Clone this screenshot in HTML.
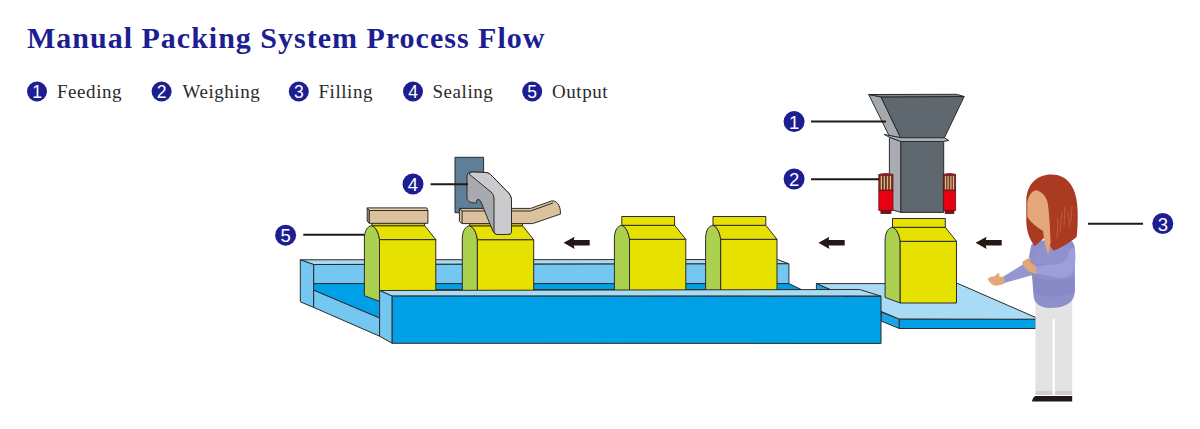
<!DOCTYPE html>
<html><head><meta charset="utf-8">
<style>
html,body{margin:0;padding:0;background:#fff;}
body{width:1200px;height:429px;overflow:hidden;position:relative;}
.title{position:absolute;left:27px;top:19.6px;font-family:"Liberation Serif",serif;font-weight:bold;font-size:30px;letter-spacing:1px;color:#1c1e92;white-space:nowrap;line-height:36px;}
.leg{position:absolute;top:81px;font-family:"Liberation Serif",serif;font-size:19px;letter-spacing:0.55px;color:#2a2a2a;white-space:nowrap;line-height:22px;}
svg{position:absolute;left:0;top:0;}
</style></head><body>
<div class="title">Manual Packing System Process Flow</div>
<div class="leg" style="left:57px">Feeding</div>
<div class="leg" style="left:182.5px">Weighing</div>
<div class="leg" style="left:318.5px">Filling</div>
<div class="leg" style="left:432.5px">Sealing</div>
<div class="leg" style="left:552px">Output</div>
<svg width="1200" height="429" viewBox="0 0 1200 429">
<defs>
<g id="num" font-family="'Liberation Sans', sans-serif" font-size="15" fill="#fff" text-anchor="middle"></g>
</defs>
<!-- legend circles -->
<g fill="#1c1e92">
<circle cx="37" cy="91.5" r="10"/><circle cx="161.6" cy="91.5" r="10"/><circle cx="298.8" cy="91.5" r="10"/><circle cx="413" cy="91.5" r="10"/><circle cx="532.2" cy="91.5" r="10"/>
</g>
<g font-family="'Liberation Sans', sans-serif" font-size="17.5" fill="#fff" text-anchor="middle">
<text x="37" y="97.8">1</text><text x="161.6" y="97.8">2</text><text x="298.8" y="97.8">3</text><text x="413" y="97.8">4</text><text x="532.2" y="97.8">5</text>
</g>

<!-- right platform conveyor -->
<g stroke="#2b2b2b" stroke-width="1" stroke-linejoin="round">
<polygon points="816.4,283.6 958,283.6 1036,317.6 1036,319.6 899.3,319.2 816.4,283.6" fill="#a9dbf5"/>
<polygon points="816.4,283.6 830,289.6 816.4,289.6" fill="#1aa6e6"/>
<polygon points="881,312.1 899.3,319.2 899.3,328.5 881,321" fill="#1aa6e6"/>
<polygon points="899.3,319.2 1036,319.2 1036,328.5 899.3,328.5" fill="#00a0e6"/>
</g>

<!-- left conveyor back -->
<g stroke="#2b2b2b" stroke-width="1" stroke-linejoin="round">
<!-- back wall top strip -->
<polygon points="300.3,259.8 777.5,259.5 788.9,263.8 313.6,264.5" fill="#a9dbf5"/>
<!-- back wall face -->
<polygon points="313.6,264.5 788.9,263.8 788.9,283.6 313.6,283.6" fill="#74c7f1"/>
<!-- floor -->
<polygon points="313.6,283.6 788.9,283.6 801.4,289.6 379.6,289.6 379.6,318.1 313.6,290.2" fill="#00a0e6"/>
<!-- left wall inner face -->
<polygon points="313.6,290.2 379.6,318.1 379.6,336.2 313.6,307.4" fill="#74c7f1"/>
<!-- left end cap -->
<polygon points="300.3,259.8 313.6,264.5 313.6,307.4 300.3,301.8" fill="#74c7f1"/>
</g>

<!-- bags placeholder group -->
<g id="bags" stroke="#2b2b2b" stroke-width="1" stroke-linejoin="round"><g transform="translate(364.4,216.8)">
<path d="M0,78.9 L0,22 C0,14 3,9.5 7.4,8.8 C11,10 14,15 15.1,22.8 L15.1,84.5 Z" fill="#acd14e"/>
<rect x="15.1" y="22.8" width="56.3" height="61.7" fill="#e6e100"/>
<path d="M7.4,8.8 L60.2,8.8 L71.4,22.8 L15.1,22.8 C14,15 11,10 7.4,8.8 Z" fill="#e6e100"/>
<rect x="7.4" y="6" width="52.8" height="3" fill="#cfc800"/>
</g><g transform="translate(462.3,216.9)">
<path d="M0,78.9 L0,22 C0,14 3,9.5 7.4,8.8 C11,10 14,15 15.1,22.8 L15.1,84.5 Z" fill="#acd14e"/>
<rect x="15.1" y="22.8" width="56.3" height="61.7" fill="#e6e100"/>
<path d="M7.4,8.8 L60.2,8.8 L71.4,22.8 L15.1,22.8 C14,15 11,10 7.4,8.8 Z" fill="#e6e100"/>
<rect x="7.4" y="6" width="52.8" height="3" fill="#cfc800"/>
</g><g transform="translate(614.4,216.5)">
<path d="M0,78.9 L0,22 C0,14 3,9.5 7.4,8.8 C11,10 14,15 15.1,22.8 L15.1,84.5 Z" fill="#acd14e"/>
<rect x="15.1" y="22.8" width="56.3" height="61.7" fill="#e6e100"/>
<path d="M7.4,8.8 L60.2,8.8 L71.4,22.8 L15.1,22.8 C14,15 11,10 7.4,8.8 Z" fill="#e6e100"/>
<rect x="7.4" y="0" width="52.8" height="8.8" fill="#e6e100"/>
</g><g transform="translate(705.6,216.5)">
<path d="M0,78.9 L0,22 C0,14 3,9.5 7.4,8.8 C11,10 14,15 15.1,22.8 L15.1,84.5 Z" fill="#acd14e"/>
<rect x="15.1" y="22.8" width="56.3" height="61.7" fill="#e6e100"/>
<path d="M7.4,8.8 L60.2,8.8 L71.4,22.8 L15.1,22.8 C14,15 11,10 7.4,8.8 Z" fill="#e6e100"/>
<rect x="7.4" y="0" width="52.8" height="8.8" fill="#e6e100"/>
</g><g transform="translate(885.1,218.5)">
<path d="M0,78.9 L0,22 C0,14 3,9.5 7.4,8.8 C11,10 14,15 15.1,22.8 L15.1,84.5 Z" fill="#acd14e"/>
<rect x="15.1" y="22.8" width="56.3" height="61.7" fill="#e6e100"/>
<path d="M7.4,8.8 L60.2,8.8 L71.4,22.8 L15.1,22.8 C14,15 11,10 7.4,8.8 Z" fill="#e6e100"/>
<rect x="7.4" y="0" width="52.8" height="8.8" fill="#e6e100"/>
</g>
<!-- lid 1 -->
<polygon points="367.2,207.9 426.7,207.9 427.9,210.5 369.3,210.5" fill="#e8cfad"/>
<polygon points="367.2,207.9 369.3,210.5 369.3,223.3 367.2,221" fill="#c9ab82"/>
<rect x="369.3" y="210.5" width="58.6" height="12.8" fill="#dcc29c"/>
<!-- sealer box -->
<rect x="455" y="157.3" width="28.6" height="55.4" fill="#5f7e98"/>
<!-- lid 2 -->
<path d="M459.4,208.4 L530.5,208.4 L551.5,201 C556,200 561,205 560.4,214.1 L532.6,223.6 L462.1,223.6 L459.4,221.5 Z" fill="#dcc29c"/>
<path d="M459.4,208.4 L462.1,211 L530.5,211 L553,203" fill="none"/>
<path d="M462.1,211 L462.1,223.6" fill="none"/>
<!-- gray sealing bar -->
<path d="M467,176 C467,173 469,172 472,172 L486,172.5 C489,173 490,174 492,176 L508.6,193 C511,196 511.5,198 511.5,202 L511.5,232 C511.5,234 509,234.5 505,234.5 L498,234.5 C495,234.5 493,232 492,229 L481,202 C480,199.5 478,199 477,200 L476.3,203 C475,203 471,203 469,201.5 C467.5,200 467,199 467,197 Z" fill="#a9aaae"/>
<path d="M469,174 C470,172 472,172 474,172 L486,172.5 C489,173 490,174 492,176 L508.6,193 C511,196 511.5,198 511.5,202 L511.5,232 C511.5,234 509,234.5 505,234.5 L498,234.5 C495,234.5 494,233 494,230 L494,199 C494,196 493,194 491,192 Z" fill="#cbcbcd"/>
</g>

<!-- front wall -->
<g stroke="#2b2b2b" stroke-width="1" stroke-linejoin="round">
<polygon points="379.6,290.5 859.6,289.5 881,296.2 392.2,296.1" fill="#a9dbf5"/>
<polygon points="379.6,290.5 392.2,296.1 392.2,343.3 379.6,336.2" fill="#74c7f1"/>
<polygon points="392.2,296.1 881,296.2 881,343.4 392.2,343.3" fill="#00a0e6"/>
</g>

<!-- hopper -->
<g stroke="#2b2b2b" stroke-width="1" stroke-linejoin="round">
<polygon points="868.7,94.5 881,96.9 900.6,137.8 889,135.5" fill="#a4a9ad"/>
<polygon points="881,96.9 964.2,96.5 944.4,137.8 900.6,137.8" fill="#5f686e"/>
<polygon points="868.7,94.5 956.5,94.3 964.2,96.5 881,96.9" fill="#80878c"/>
<polygon points="889.4,137.2 900.9,141.4 900.9,212.4 889.4,209" fill="#a8acb0"/>
<rect x="900.9" y="141.4" width="42.8" height="71" fill="#5f686e"/>
<polygon points="884.1,134.4 900.6,137.8 944.4,137.8 948.75,140.5 943.75,141.4 900.9,141.4 889.4,137.2" fill="#b4b8bc"/>
</g>
<!-- motors -->
<g>
<g transform="translate(878.8,172.6)">
<rect x="1.56" y="37" width="11.08" height="4.4" rx="1.2" fill="#6b1a22"/>
<rect x="0" y="17.5" width="14.20" height="20.4" fill="#e60012" stroke="#5a1010" stroke-width="0.7"/>
<rect x="0" y="2" width="14.20" height="15.5" fill="#7a2a22" stroke="#5a1010" stroke-width="0.7"/>
<g stroke="#c9c08a" stroke-width="1.3"><line x1="2.56" y1="3" x2="2.56" y2="17" /><line x1="5.52" y1="3" x2="5.52" y2="17" /><line x1="8.68" y1="3" x2="8.68" y2="17" /><line x1="11.64" y1="3" x2="11.64" y2="17" /></g>
<ellipse cx="7.10" cy="2" rx="7.10" ry="1.6" fill="#8a1f25"/>
</g><g transform="translate(943.3,172.6)">
<rect x="1.36" y="37" width="9.67" height="4.4" rx="1.2" fill="#6b1a22"/>
<rect x="0" y="17.5" width="12.40" height="20.4" fill="#e60012" stroke="#5a1010" stroke-width="0.7"/>
<rect x="0" y="2" width="12.40" height="15.5" fill="#7a2a22" stroke="#5a1010" stroke-width="0.7"/>
<g stroke="#c9c08a" stroke-width="1.3"><line x1="2.24" y1="3" x2="2.24" y2="17" /><line x1="4.82" y1="3" x2="4.82" y2="17" /><line x1="7.58" y1="3" x2="7.58" y2="17" /><line x1="10.16" y1="3" x2="10.16" y2="17" /></g>
<ellipse cx="6.20" cy="2" rx="6.20" ry="1.6" fill="#8a1f25"/>
</g>
</g>
<!-- woman -->
<g>
<!-- legs -->
<rect x="1035.4" y="300" width="36.8" height="91" fill="#e3e3e3"/>
<rect x="1052.6" y="319" width="2.2" height="77" fill="#ffffff"/>
<rect x="1035.4" y="391" width="17.2" height="4" fill="#cfcfcf"/>
<rect x="1054.8" y="391" width="17.4" height="4" fill="#cfcfcf"/>
<path d="M1035.2,396.1 L1072.2,396.1 L1072.2,401.6 L1031.9,401.6 C1032.3,399.5 1033.5,397 1035.2,396.1 Z" fill="#231815"/>
<!-- torso -->
<path d="M1031,246 C1032,242 1040,240 1050,240 L1068,240 C1073,240 1075,244 1075,252 L1074.8,292 C1074.5,302 1066,308 1050,308 C1040,308 1033.5,303 1033.5,295 L1032,276 C1030,274 1028,270 1028,262 Z" fill="#8d8fcb"/>
<path d="M1033,277 C1045,281 1062,282 1074.8,277 L1074.8,292 C1062,298 1045,298 1033.6,293 Z" fill="#8689c5"/>
<path d="M1034,250 C1040,246 1056,246 1070,248 L1072,262 L1060,264 C1050,262 1040,262 1034,266 Z" fill="#9294cf" opacity="0.6"/>
<!-- neck V -->
<!-- arm out forearm -->
<path d="M1026,262.5 L1003,276.7 L1003.9,283.1 L1031,275.5 C1030,271 1028.5,266 1026,262.5 Z" fill="#9496d1"/>
<!-- crossing forearm -->
<path d="M1074.8,248 C1076,256 1075.5,266 1073,272 C1071,276 1066,278.5 1060,278 L1036.2,273.6 L1035.3,267.3 C1042,265 1050,264.5 1057,264.6 C1063,263 1067,260 1068,255 C1069,250 1071,247 1074.8,248 Z" fill="#9d9fd9"/>
<!-- hair -->
<path d="M1051.5,174.6 C1068,174.6 1077.5,188 1077.7,212 C1077.8,222 1077.5,230 1076.6,237 C1068,244 1060,248 1053.6,250.8 L1044,238 L1034.9,246.2 C1029,239 1026.3,230 1026.3,220 L1026.3,200 C1027,184 1037,174.6 1051.5,174.6 Z" fill="#aa3a22"/>
<g stroke="#c9654a" stroke-width="1" fill="none" opacity="0.75">
<path d="M1058,218 L1057,238"/><path d="M1062,212 L1060,232"/><path d="M1065,207 L1064,226"/><path d="M1068,212 L1070,228"/><path d="M1072,206 L1071,222"/>
</g>
<!-- face -->
<path d="M1036.6,190.2 C1042,192 1046,196 1047.5,202 C1049,210 1050,225 1050.6,242.7 L1048,255 L1044.5,242.7 L1043,231 C1038,228 1030,222 1027.3,216.5 L1027.3,203 C1028,196 1032,190.2 1036.6,190.2 Z" fill="#e3a77a"/>
<!-- hands -->
<path d="M987.7,279 C989,277 992,276.5 995,276 L997.6,273.5 C998.5,273 999.5,273.5 999.5,274.5 L999,276.5 L1004,277 L1004.5,283.5 C1001,285 997,286 994,285.6 C991,284 989,282 987.7,279 Z" fill="#e3a77a"/>
<path d="M1022,262.5 C1023.5,260.5 1026,259.5 1028,258.5 L1029.5,257.5 C1030.5,257.5 1031,258.5 1030.5,259.5 L1030,261.5 C1032,263 1034,265 1036.2,267 L1036.2,274 L1031,272.5 C1027,270.5 1023.5,266.5 1022,262.5 Z" fill="#e3a77a"/>
</g>
<!-- arrows -->
<g fill="#231815">
<path d="M563.6,242.8 L574.6,236.8 L573.8,240.1 L589.7,240.1 L589.7,245.6 L573.8,245.6 L574.6,249.1 Z"/>
<path d="M818.4,242.8 L829.4,236.8 L828.6,240.1 L844.7,240.1 L844.7,245.6 L828.6,245.6 L829.4,249.1 Z"/>
<path d="M975.6,242.8 L986.6,236.8 L985.8,240.1 L1001.7,240.1 L1001.7,245.6 L985.8,245.6 L986.6,249.1 Z"/>
</g>

<!-- callouts -->
<g stroke="#231815" stroke-width="2">
<line x1="811" y1="121.6" x2="886" y2="121.6"/>
<line x1="811" y1="179.3" x2="879" y2="179.3"/>
<line x1="1088" y1="223.7" x2="1143" y2="223.7"/>
<line x1="430.6" y1="184.2" x2="468" y2="184.2"/>
<line x1="303.3" y1="234.8" x2="364.5" y2="234.8"/>
</g>
<g fill="#1c1e92">
<circle cx="794.1" cy="121.6" r="10.5"/><circle cx="794.1" cy="179" r="10.5"/><circle cx="1162.8" cy="223.5" r="10.5"/><circle cx="413" cy="184" r="10.5"/><circle cx="285.6" cy="235.2" r="10.5"/>
</g>
<g font-family="'Liberation Sans', sans-serif" font-size="18.5" fill="#fff" text-anchor="middle">
<text x="794.1" y="128.6">1</text><text x="794.1" y="186">2</text><text x="1162.8" y="230.6">3</text><text x="413" y="191">4</text><text x="285.6" y="242.3">5</text>
</g>
</svg>
</body></html>
